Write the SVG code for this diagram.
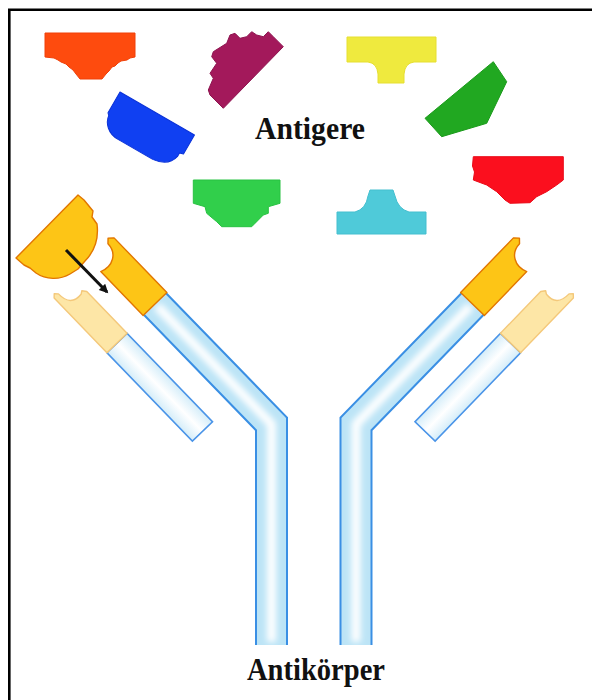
<svg xmlns="http://www.w3.org/2000/svg" xmlns:xlink="http://www.w3.org/1999/xlink" width="592" height="700" viewBox="0 0 592 700">
  <style>
    .frame { stroke: #000; stroke-width: 2.6; fill: none; }
    .antigen { stroke-width: 1; stroke-linejoin: round; }
    .hc-edge { fill: none; stroke: #3a8fe4; stroke-width: 33; stroke-linejoin: miter; }
    .hc-fill { fill: none; stroke: #bce4f6; stroke-width: 29; stroke-linejoin: miter; }
    .hc-core { fill: none; stroke: #ffffff; stroke-width: 9; stroke-linejoin: miter; }
    .lc-body { fill: url(#lcFill); stroke: #4a94e8; stroke-width: 1.6; }
    .tip { fill: #fdc516; stroke: #e27600; stroke-width: 1.4; stroke-linejoin: round; }
    .tip-pale { fill: #fde6a6; stroke: #f4c87a; stroke-width: 1.4; stroke-linejoin: round; }
    .label { font-family: "Liberation Serif", "Times New Roman", serif; font-weight: bold; font-size: 31px; fill: #111; }
  </style>
  <defs>
    <filter id="soft" x="-50%" y="-50%" width="200%" height="200%">
      <feGaussianBlur stdDeviation="3"/>
    </filter>
    <linearGradient id="lcFill" x1="0" y1="0" x2="1" y2="0">
      <stop offset="0" stop-color="#d4edf9"/>
      <stop offset="0.5" stop-color="#ffffff"/>
      <stop offset="1" stop-color="#d4edf9"/>
    </linearGradient>
    <marker id="arrowhead" viewBox="0 0 10 10" refX="8" refY="5" markerUnits="userSpaceOnUse" markerWidth="11" markerHeight="9" orient="auto">
      <path d="M0,0 L10,5 L0,10 Z" fill="#111"/>
    </marker>

    <!-- heavy chain: bent tube with orange variable end -->
    <g id="heavyChain">
      <path class="hc-edge" d="M155,304 L271.5,424 L271.5,645"/>
      <path class="hc-fill" d="M155,304 L271.5,424 L271.5,645"/>
      <path class="hc-core" d="M157,306 L271.5,424 L271.5,642" filter="url(#soft)"/>
      <path class="tip" transform="translate(155,304) rotate(-44)"
            d="M-16.5,0 L16.5,0 L16.5,-76 L12,-80 L8,-76 C8,-63 -4,-56 -16.5,-61 Z"/>
    </g>

    <!-- light chain: straight open tube with pale variable end -->
    <g id="lightChain">
      <g transform="translate(117,343) rotate(-44)">
        <rect class="lc-body" x="-14" y="0" width="28" height="123"/>
        <path class="tip-pale" d="M-14,0 L-14,-76 L-11,-79 L-8,-76 Q-8,-58 8,-60 L11,-62 L14,-58 L14,0 Z"/>
      </g>
    </g>
  </defs>

  <rect width="592" height="700" fill="#ffffff"/>

  <!-- frame -->
  <path class="frame" d="M9.3,700 L9.3,9.8 L592,9.8"/>

  <!-- free antigens -->
  <g id="antigen-orange">
    <path class="antigen" fill="#fe4b0e" stroke="#f04008"
          d="M45,33 L135,33 L135,57 L130,58 L127,60 L121,61 L118,63 L115,66 L112,67 L109,71 L106,74 L102,79 L80,79 L76,74 L73,70 L69,67 L66,64 L61,62 L58,60 L54,58 L45,57 Z"/>
  </g>

  <g id="antigen-maroon">
    <path class="antigen" fill="#a3195b" stroke="#8e1450"
          d="M283.3,46.7 L273.3,36.7 L268.3,31.7 L263.3,36.7 L256.7,35 L251.7,31.7 L246.7,36.7 L240,38.3 L235,33.3 L230,35 L226.7,43.3 L213.3,51.7 L211.7,56.7 L216.7,63.3 L210,73.3 L213.3,78.3 L208.3,90 L210,95 L223.3,108.3 Z"/>
  </g>

  <g id="antigen-yellow">
    <path class="antigen" fill="#efea3e" stroke="#e6df30"
          d="M347,37 H436 V62 H414 Q405,63 404,74 V83 H378 V74 Q377,63 368,62 H347 Z"/>
  </g>

  <g id="antigen-blue">
    <path class="antigen" fill="#1040f2" stroke="#0a32d8" transform="translate(120,92) rotate(30)"
          d="M0,0 L86,0 L86,22 L82,23 L82,27 C80,36 72,41 62,42 L22,42 C10,42 3,34 2,26 L0,24 Z"/>
  </g>

  <g id="antigen-darkgreen">
    <path class="antigen" fill="#21a821" stroke="#1a9a1a"
          d="M493.3,61.7 L506.7,81.7 L486.7,123.3 L441.7,136.7 L425,118.3 Z"/>
  </g>

  <g id="antigen-red">
    <path class="antigen" fill="#fb0f1e" stroke="#ea0a18"
          d="M473.3,156.7 H563.3 V180 L556.7,185 L546.7,191.7 L536.7,196.7 L530,202.7 L510,203.3 L505,200 L496.7,191.7 L486.7,185 L473.3,180 L474.5,172 L472.5,166 Z"/>
  </g>

  <g id="antigen-green">
    <path class="antigen" fill="#31cf4b" stroke="#28c242"
          d="M193.3,180 H280 V203.3 L268.3,206.7 L268.3,213.3 L263.3,215 L251.7,226.7 L221.7,226.7 L216.7,221.7 L206.7,213.3 L205,206.7 L193.3,203.3 Z"/>
  </g>

  <g id="antigen-cyan">
    <path class="antigen" fill="#4fcad9" stroke="#44bfcf"
          d="M337,212 H355 Q366,209 368,196 L370,190 H393 L395,196 Q398,209 409,212 H426 V234 H337 Z"/>
  </g>

  <!-- antibody -->
  <g id="light-chain-left"><use xlink:href="#lightChain"/></g>
  <g id="light-chain-right" transform="matrix(-1 0 0 1 627.5 0)"><use xlink:href="#lightChain"/></g>
  <g id="heavy-chain-left"><use xlink:href="#heavyChain"/></g>
  <g id="heavy-chain-right" transform="matrix(-1 0 0 1 627.5 0)"><use xlink:href="#heavyChain"/></g>

  <!-- antigen bound to the left binding site -->
  <g id="antigen-bound">
    <path class="tip"
          d="M16,258 L78,195 L84,200 L93,211 L92,217 L97,224 C99,240 94,252 85,261 L78,269 L70,274 C60,280 46,280 36,273 L30,268 L24,265 Z"/>
  </g>

  <!-- connectors -->
  <g id="connectors">
    <line x1="66" y1="250" x2="107" y2="292" stroke="#111" stroke-width="3" marker-end="url(#arrowhead)"/>
  </g>

  <!-- labels -->
  <g id="label-antigene">
    <text class="label" x="255" y="139" textLength="110" lengthAdjust="spacingAndGlyphs">Antigere</text>
  </g>
  <g id="label-antikoerper">
    <text class="label" x="247" y="680" textLength="138" lengthAdjust="spacingAndGlyphs">Antikörper</text>
  </g>
</svg>
